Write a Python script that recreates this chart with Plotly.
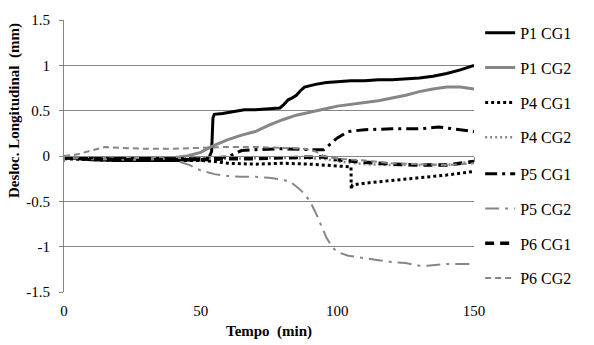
import plotly.graph_objects as go

# Longitudinal displacement (mm) vs time (min)
t_p1cg1 = [0, 5, 10, 20, 30, 40, 45, 50, 53, 54, 54.5, 55, 58, 62, 66, 70, 75, 79, 80.5, 82, 83.5, 85, 86.5, 88, 92, 96, 100, 105, 110, 115, 120, 125, 130, 135, 140, 145, 150]
v_p1cg1 = [-0.02, -0.03, -0.04, -0.05, -0.05, -0.05, -0.04, -0.04, -0.02, 0.05, 0.42, 0.46, 0.47, 0.49, 0.51, 0.51, 0.52, 0.53, 0.57, 0.62, 0.64, 0.67, 0.72, 0.76, 0.79, 0.81, 0.82, 0.83, 0.83, 0.84, 0.84, 0.85, 0.86, 0.88, 0.91, 0.95, 1.0]

t_p1cg2 = [0, 10, 20, 30, 40, 45, 50, 53, 56, 60, 65, 70, 75, 80, 85, 90, 95, 97, 100, 105, 110, 115, 120, 125, 130, 135, 140, 145, 150]
v_p1cg2 = [-0.02, -0.03, -0.03, -0.03, -0.02, 0.0, 0.04, 0.09, 0.13, 0.18, 0.23, 0.27, 0.34, 0.40, 0.45, 0.48, 0.51, 0.53, 0.55, 0.57, 0.59, 0.61, 0.64, 0.67, 0.71, 0.74, 0.76, 0.76, 0.74]

t_p4cg1 = [0, 10, 20, 30, 40, 50, 55, 60, 70, 80, 90, 100, 105, 105.1, 105.5, 110, 120, 130, 140, 150]
v_p4cg1 = [-0.03, -0.04, -0.05, -0.05, -0.05, -0.05, -0.06, -0.08, -0.09, -0.08, -0.09, -0.11, -0.12, -0.37, -0.32, -0.30, -0.27, -0.24, -0.21, -0.17]

t_p4cg2 = [0, 20, 40, 60, 80, 95, 100, 110, 120, 130, 140, 150]
v_p4cg2 = [-0.01, -0.02, -0.02, -0.03, -0.02, -0.03, -0.06, -0.09, -0.10, -0.10, -0.10, -0.06]

t_p5cg1 = [0, 20, 40, 50, 55, 60, 62, 65, 70, 80, 90, 95, 97, 100, 104, 110, 120, 130, 137, 145, 150]
v_p5cg1 = [-0.02, -0.02, -0.03, -0.03, -0.02, -0.01, 0.02, 0.06, 0.07, 0.08, 0.07, 0.07, 0.12, 0.20, 0.27, 0.29, 0.30, 0.30, 0.32, 0.29, 0.27]

t_p5cg2 = [0, 10, 20, 30, 38, 42, 46, 50, 55, 60, 65, 70, 75, 80, 83, 86, 88, 90, 92, 94, 96, 98, 100, 104, 110, 115, 120, 125, 130, 133, 140, 150]
v_p5cg2 = [-0.02, -0.03, -0.04, -0.04, -0.03, -0.06, -0.10, -0.16, -0.20, -0.22, -0.23, -0.23, -0.24, -0.26, -0.29, -0.36, -0.42, -0.50, -0.62, -0.76, -0.90, -1.00, -1.06, -1.10, -1.13, -1.15, -1.17, -1.18, -1.21, -1.21, -1.19, -1.19]

t_p6cg1 = [0, 20, 40, 50, 60, 70, 80, 90, 95, 100, 110, 120, 130, 140, 150]
v_p6cg1 = [-0.02, -0.04, -0.04, -0.04, -0.03, -0.03, -0.02, -0.01, -0.01, -0.04, -0.07, -0.09, -0.10, -0.10, -0.06]

t_p6cg2 = [0, 5, 10, 15, 20, 30, 40, 50, 60, 70, 80, 88, 92, 95, 100, 110, 120, 130, 140, 150]
v_p6cg2 = [0.0, 0.02, 0.06, 0.10, 0.09, 0.08, 0.08, 0.09, 0.10, 0.10, 0.09, 0.08, 0.05, 0.0, -0.03, -0.05, -0.08, -0.09, -0.10, -0.08]

y_ticks = [-1.5, -1, -0.5, 0, 0.5, 1, 1.5]
y_tick_text = ["-1.5", "-1", "-0.5", "0", "0.5", "1", "1.5"]
x_ticks = [0, 50, 100, 150]
x_tick_text = ["0", "50", "100", "150"]

BLACK = "#000000"
GRAY = "#868686"
FONT = "Liberation Serif"

series = [
    ("P1 CG1", t_p1cg1, v_p1cg1, BLACK, 3, "solid"),
    ("P1 CG2", t_p1cg2, v_p1cg2, GRAY, 3, "solid"),
    ("P4 CG1", t_p4cg1, v_p4cg1, BLACK, 3, "3px,3px"),
    ("P4 CG2", t_p4cg2, v_p4cg2, GRAY, 2.5, "2px,3px"),
    ("P5 CG1", t_p5cg1, v_p5cg1, BLACK, 3, "12px,5px,3px,5px"),
    ("P5 CG2", t_p5cg2, v_p5cg2, GRAY, 2, "14px,6px,3px,6px"),
    ("P6 CG1", t_p6cg1, v_p6cg1, BLACK, 3.5, "9px,6px"),
    ("P6 CG2", t_p6cg2, v_p6cg2, GRAY, 2, "6px,4px"),
]

fig = go.Figure()
for i, (name, t, v, color, width, dash) in enumerate(series):
    fig.add_trace(go.Scatter(
        x=t, y=v, mode="lines", name=name, legendgroup=f"g{i}",
        legend="legend" if i < 4 else "legend2",
        line=dict(color=color, width=width, dash=dash),
    ))

# zero line carrying the x-axis tick marks
fig.add_trace(go.Scatter(x=[0, 150], y=[0, 0], xaxis="x2", mode="lines",
                         showlegend=False, hoverinfo="skip",
                         line=dict(color="rgba(0,0,0,0)", width=0)))

legend_style = dict(
    xanchor="left", yanchor="top", x=1.015,
    font=dict(family=FONT, size=16, color="black"),
    tracegroupgap=11, bgcolor="rgba(0,0,0,0)",
)

fig.update_layout(
    width=594, height=345,
    margin=dict(l=64, r=120, t=17, b=53),
    paper_bgcolor="white", plot_bgcolor="white",
    font=dict(family=FONT, size=15, color="black"),
    showlegend=True,
    legend=dict(y=1.015, **legend_style),
    legend2=dict(y=0.497, **legend_style),
    xaxis=dict(
        range=[0, 150], tickvals=x_ticks, ticktext=x_tick_text,
        showgrid=False, zeroline=False, showline=False, ticks="",
        ticklabelstandoff=8,
        tickfont=dict(family=FONT, size=15, color="black"),
    ),
    xaxis2=dict(
        range=[0, 150], overlaying="x", anchor="free", position=0.5,
        tickvals=x_ticks, showticklabels=False, showgrid=False,
        zeroline=False, showline=True, linecolor=GRAY, linewidth=1,
        ticks="outside", ticklen=5, tickcolor=GRAY,
    ),
    yaxis=dict(
        range=[-1.5, 1.5], tickvals=y_ticks, ticktext=y_tick_text,
        showgrid=True, gridcolor=GRAY, gridwidth=1,
        zeroline=False, showline=True, linecolor=GRAY, linewidth=1,
        ticks="outside", ticklen=4, tickcolor=GRAY,
        ticklabelstandoff=6,
        tickfont=dict(family=FONT, size=15, color="black"),
    ),
    annotations=[
        dict(text="<b>Desloc. Longitudinal  (mm)</b>", xref="paper", yref="paper",
             x=-0.122, y=0.669, xanchor="center", yanchor="middle",
             textangle=-90, showarrow=False,
             font=dict(family=FONT, size=15, color="black")),
        dict(text="<b>Tempo  (min)</b>", xref="paper", yref="paper",
             x=0.5, y=-0.145, xanchor="center", yanchor="middle",
             showarrow=False,
             font=dict(family=FONT, size=15, color="black")),
    ],
)

fig.write_html("out.html")
